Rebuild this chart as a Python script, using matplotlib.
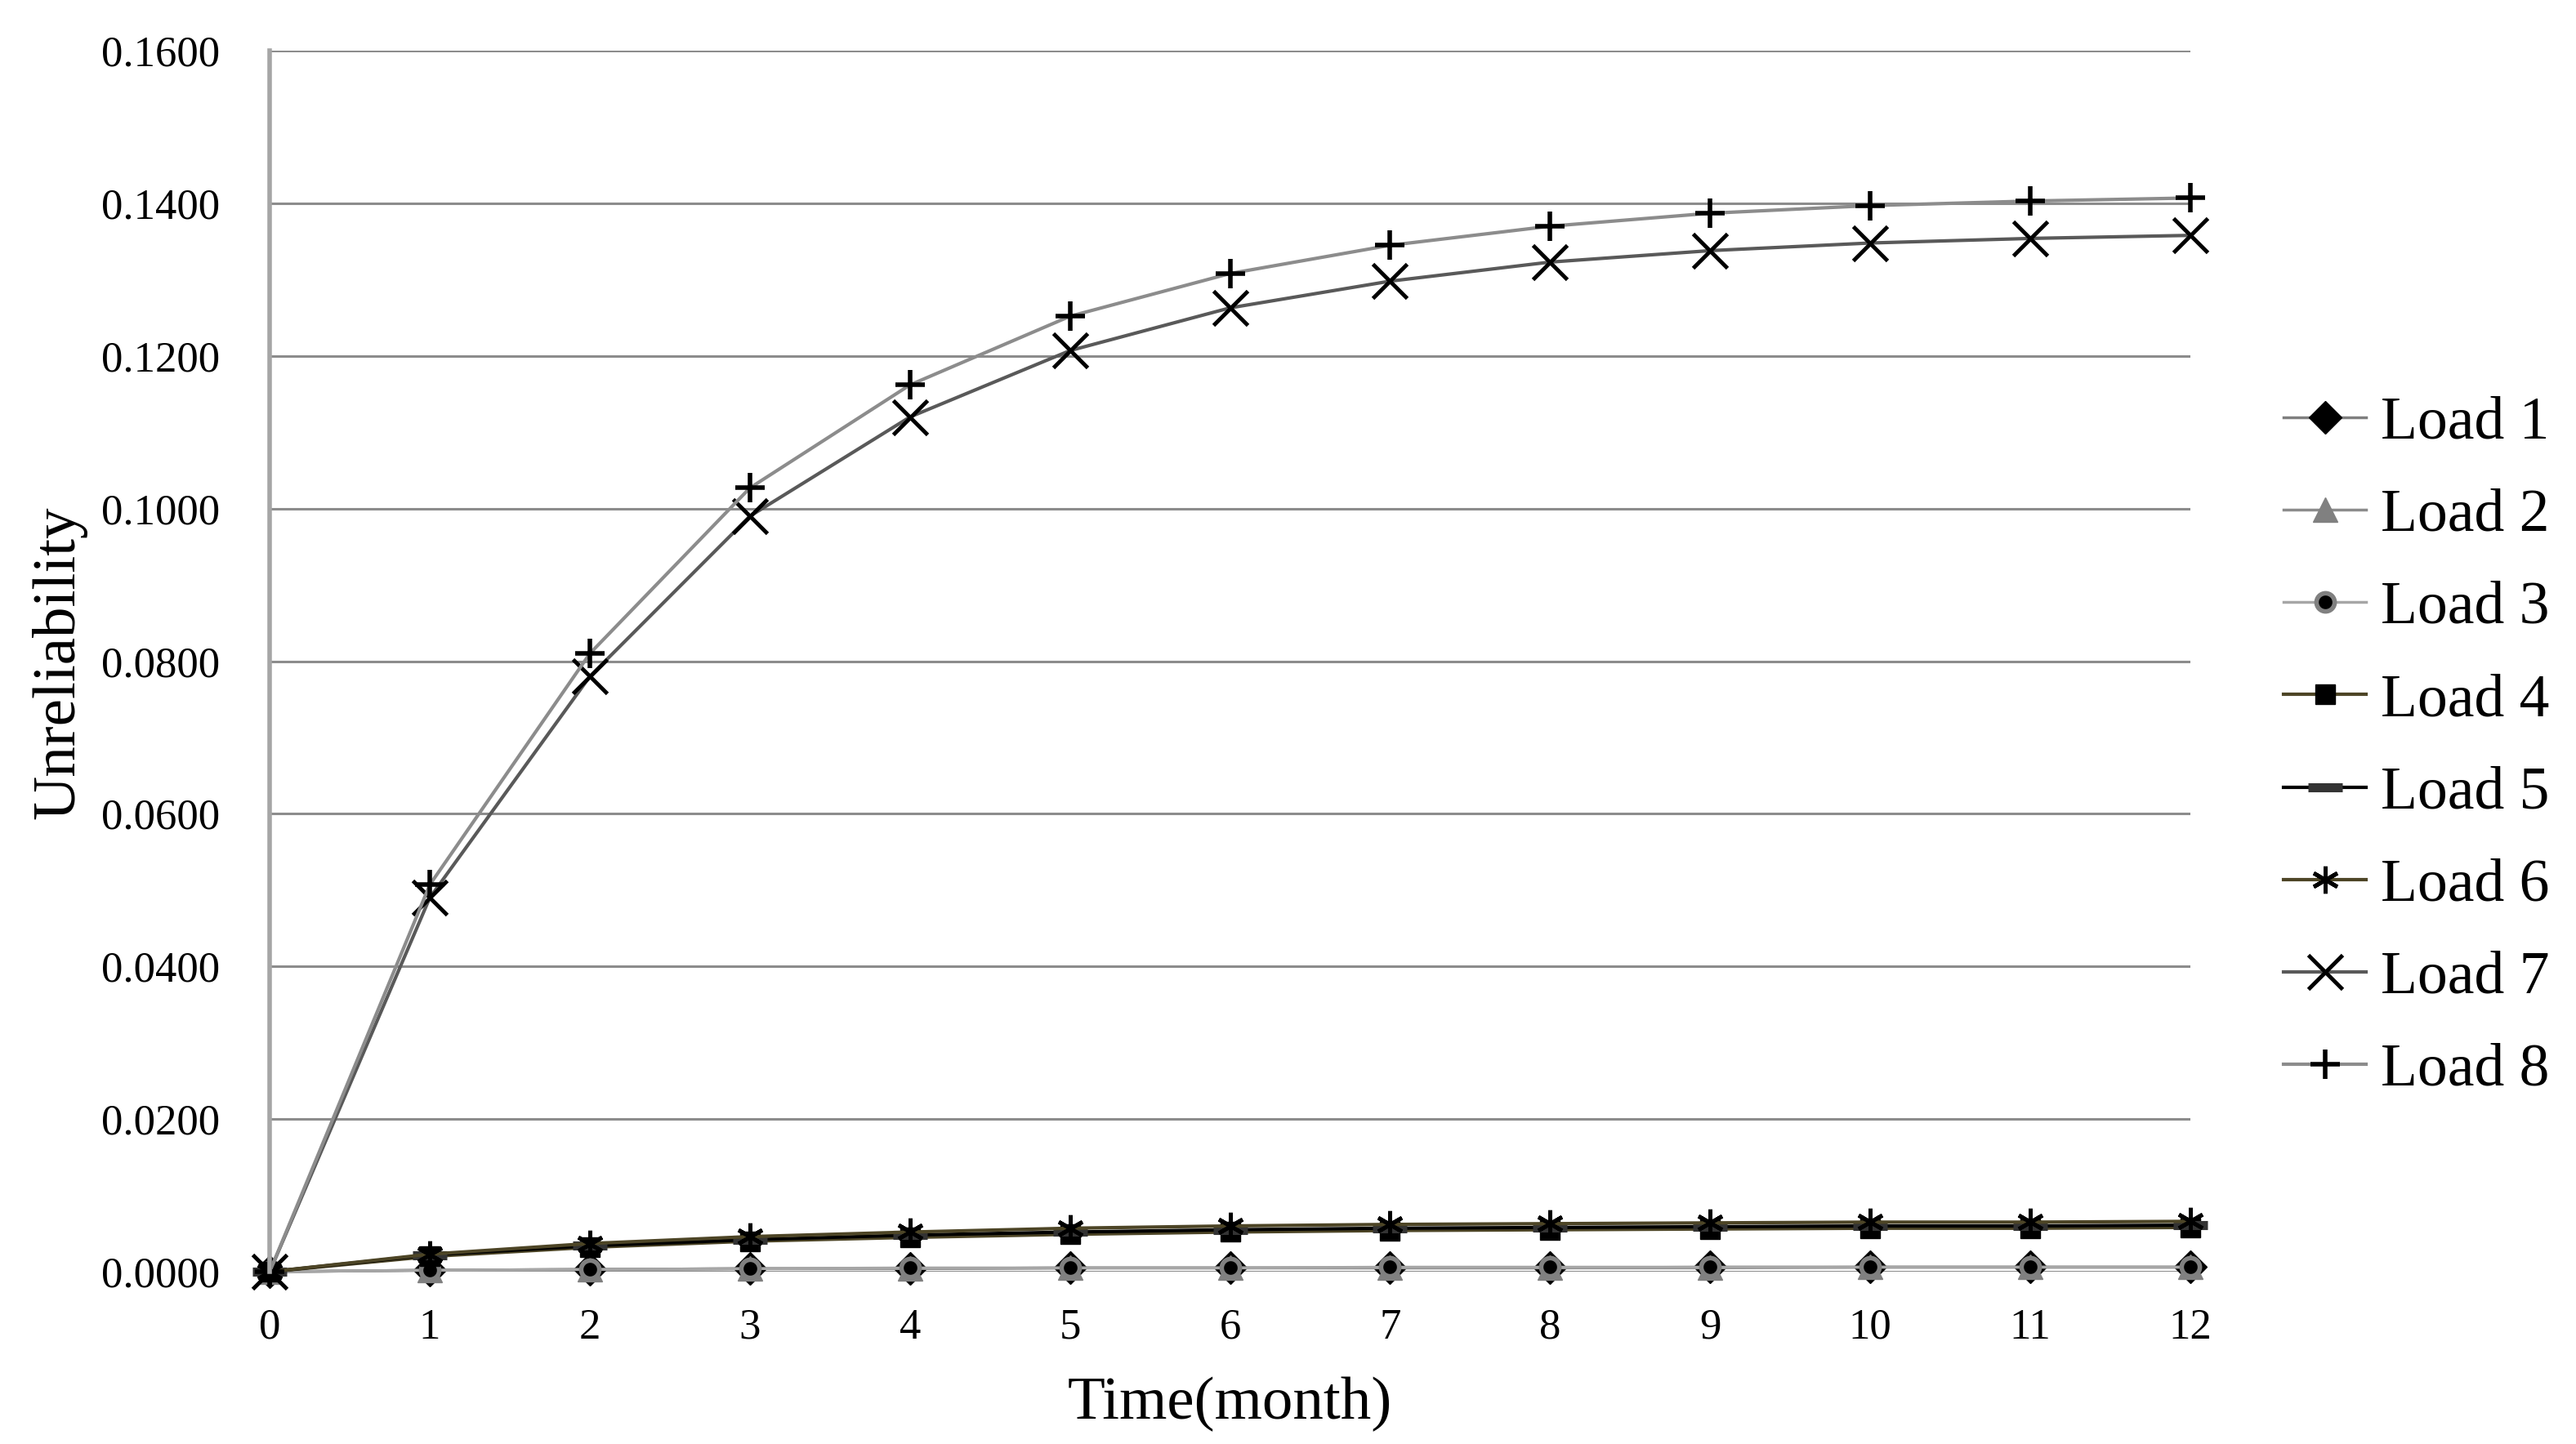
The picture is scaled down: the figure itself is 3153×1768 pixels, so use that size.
import matplotlib
matplotlib.use("Agg")
import matplotlib.pyplot as plt
from matplotlib.ticker import FormatStrFormatter

plt.rcParams['font.family'] = ['Liberation Serif', 'DejaVu Serif']

months = list(range(0, 13))

load1 = [0, 0.0002, 0.0003, 0.0004, 0.0004, 0.0005, 0.0005, 0.0005, 0.0005, 0.0006, 0.0006, 0.0006, 0.0006]
load2 = [0, 0.0002, 0.0003, 0.0004, 0.0004, 0.0005, 0.0005, 0.0005, 0.0005, 0.0005, 0.0006, 0.0006, 0.0006]
load3 = [0, 0.0002, 0.0003, 0.0004, 0.0005, 0.0005, 0.0005, 0.0006, 0.0006, 0.0006, 0.0006, 0.0006, 0.0006]
load4 = [0, 0.0020, 0.0032, 0.0040, 0.0045, 0.0049, 0.0052, 0.0054, 0.0055, 0.0056, 0.0057, 0.0057, 0.0058]
load5 = [0, 0.0022, 0.0034, 0.0042, 0.0048, 0.0052, 0.0055, 0.0057, 0.0058, 0.0059, 0.0060, 0.0060, 0.0061]
load6 = [0, 0.0023, 0.0037, 0.0046, 0.0052, 0.0057, 0.0060, 0.0062, 0.0063, 0.0064, 0.0065, 0.0065, 0.0066]
load7 = [0, 0.0490, 0.0780, 0.0990, 0.1120, 0.1207, 0.1263, 0.1298, 0.1323, 0.1338, 0.1348, 0.1354, 0.1358]
load8 = [0, 0.0507, 0.0810, 0.1027, 0.1162, 0.1252, 0.1308, 0.1345, 0.1370, 0.1387, 0.1397, 0.1403, 0.1407]

labels = ["Load 1", "Load 2", "Load 3", "Load 4", "Load 5", "Load 6", "Load 7", "Load 8"]

fig = plt.figure(figsize=(31.53, 17.68), dpi=100)
ax = fig.add_axes([0.1047, 0.1193, 0.7456, 0.8456])

ax.plot(months, load1, color='#7f7f7f', lw=2.5, marker='D', ms=20, mfc='black', mec='black', label=labels[0], clip_on=False)
ax.plot(months, load2, color='#8c8c8c', lw=2.5, marker='^', ms=22, mfc='#808080', mec='#808080', label=labels[1], clip_on=False)
ax.plot(months, load3, color='#a6a6a6', lw=2.5, marker='o', ms=16, mfc='black', mec='#808080', mew=4, label=labels[2], clip_on=False)
ax.plot(months, load4, color='#4d4526', lw=3, marker='s', ms=17, mfc='black', mec='black', label=labels[3], clip_on=False)
ax.plot(months, load5, color='black', lw=3, marker='_', ms=30, mec='#333333', mew=8, label=labels[4], clip_on=False)
ax.plot(months, load6, color='#4d4526', lw=3, marker=(6, 2, 0), ms=24, mec='black', mew=3.5, label=labels[5], clip_on=False)
ax.plot(months, load7, color='#595959', lw=3, marker='x', ms=30, mec='black', mew=3.5, label=labels[6], clip_on=False)
ax.plot(months, load8, color='#8c8c8c', lw=3, marker='+', ms=26, mec='black', mew=4, label=labels[7], clip_on=False)

ax.set_xlim(0, 12)
ax.set_ylim(0, 0.16)
ax.set_xticks(months)
ax.set_yticks([0, 0.02, 0.04, 0.06, 0.08, 0.10, 0.12, 0.14, 0.16])
ax.yaxis.set_major_formatter(FormatStrFormatter('%.4f'))
ax.tick_params(axis='both', length=0, labelsize=38)
ax.tick_params(axis='y', pad=44)
ax.tick_params(axis='x', pad=32)

ax.grid(axis='y', color='#8c8c8c', lw=2.2)
ax.set_axisbelow(True)
for s in ['top', 'right', 'bottom']:
    ax.spines[s].set_visible(False)
ax.spines['left'].set_color('#a6a6a6')
ax.spines['left'].set_linewidth(4)

ax.set_xlabel("Time(month)", fontsize=54, labelpad=26)
ax.set_ylabel("Unreliability", fontsize=54)
ax.yaxis.set_label_coords(-0.095, 0.499)

fig.legend(loc='center left', bbox_to_anchor=(0.8865, 0.4825), frameon=False,
           fontsize=53, handlelength=1.37, handletextpad=0.24, labelspacing=0.62,
           borderpad=0, borderaxespad=0)

fig.savefig("out.png", dpi=100)
